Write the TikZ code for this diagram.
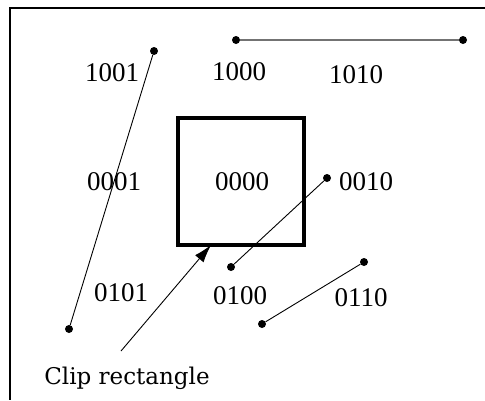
\documentclass[tikz,border=0pt]{standalone}
\usepackage{fontspec}
\setmainfont{Liberation Serif}
\newfontfamily\capfont{DejaVu Serif}
\usetikzlibrary{arrows.meta}

\tikzset{
  code/.style={font=\fontsize{27}{29}\selectfont, inner sep=0pt},
  pt/.style={circle, fill=black, inner sep=0pt, minimum size=8pt},
  seg/.style={line width=0.9pt},
}

\begin{document}
\begin{tikzpicture}[x=1pt,y=-1pt]
\useasboundingbox (0,0) rectangle (485,400);
% frame (only top and left edges show)
\draw [line width=1.5pt] (485,8) -- (10,8) -- (10,400);

% clip window
\draw [line width=3.8pt] (178,118) rectangle (304,245);
\coordinate (winb) at (211,245);

% region codes
\node[code] (c1001) at (112,73) {1001};
\node[code] (c1000) at (239,72) {1000};
\node[code] (c1010) at (356,75) {1010};
\node[code] (c0001) at (114,182) {0001};
\node[code] (c0000) at (242,182) {0000};
\node[code] (c0010) at (366,182) {0010};
\node[code] (c0101) at (121,293) {0101};
\node[code] (c0100) at (240,296) {0100};
\node[code] (c0110) at (361,298) {0110};

% line segments
\node[pt] (a1) at (236,40) {};
\node[pt] (a2) at (463,40) {};
\draw [line width=2pt, black!55] (a1) -- (a2);
\node[pt] (b1) at (154,51) {};
\node[pt] (b2) at (69,329) {};
\draw [seg] (b1) -- (b2);
\node[pt] (d1) at (327,178) {};
\node[pt] (d2) at (231,267) {};
\draw [seg] (d1) -- (d2);
\node[pt] (e1) at (364,262) {};
\node[pt] (e2) at (262,324) {};
\draw [seg] (e1) -- (e2);

% label with pointer
\node[font=\capfont\fontsize{23}{26}\selectfont, inner sep=0pt] (clip) at (127,378) {Clip rectangle};
\coordinate (tail) at (121,351);
\draw [seg, -{Latex[length=18pt,width=11pt]}] (tail) -- (winb);
\end{tikzpicture}
\end{document}
